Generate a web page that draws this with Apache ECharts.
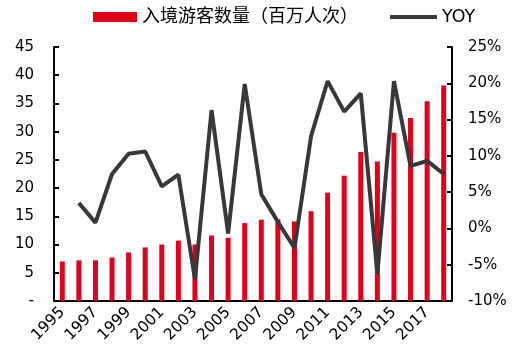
<!DOCTYPE html>
<html>
<head>
<meta charset="utf-8">
<script src="https://cdn.jsdelivr.net/npm/echarts@6/dist/echarts.min.js"></script>
<style>html,body{margin:0;padding:0;background:#fff;}#c{width:520px;height:355px;}</style>
</head>
<body>
<div id="c"></div>
<script>
const years = ['1995','1996','1997','1998','1999','2000','2001','2002','2003','2004','2005','2006','2007','2008','2009','2010','2011','2012','2013','2014','2015','2016','2017','2018'];
const visitors = [7.0, 7.2, 7.2, 7.7, 8.6, 9.5, 10.0, 10.7, 10.0, 11.6, 11.2, 13.8, 14.4, 14.5, 14.1, 15.9, 19.2, 22.2, 26.4, 24.7, 29.8, 32.4, 35.4, 38.2];
const yoy = [null, 3.5, 0.8, 7.5, 10.3, 10.6, 5.8, 7.4, -7.0, 16.3, -0.7, 19.9, 4.7, 0.9, -2.7, 12.7, 20.3, 16.1, 18.6, -6.3, 20.3, 8.6, 9.3, 7.5];
const leftTicks = {min: 0, max: 45, interval: 5};
const rightTicks = {min: -10, max: 25, interval: 5};
const barName = '入境游客数量（百万人次）';
const lineName = 'YOY';

const FONT = "'DejaVu Sans', 'Noto Sans CJK SC', sans-serif";
const chart = echarts.init(document.getElementById('c'), null, {renderer: 'canvas'});
chart.setOption({
  animation: false,
  backgroundColor: '#fff',
  textStyle: {fontFamily: FONT},
  legend: [
    {data: [{name: barName, icon: 'rect'}], left: 93, top: 6, padding: 0, itemWidth: 44, itemHeight: 10, itemGap: 5,
     textStyle: {fontSize: 18, lineHeight: 22, color: '#000', fontFamily: FONT}},
    {data: [{name: lineName, icon: 'rect'}], left: 390, top: 6, padding: 0, itemWidth: 47, itemHeight: 4,
     textStyle: {fontSize: 17.5, lineHeight: 22, color: '#000', fontFamily: FONT}}
  ],
  grid: {left: 54, right: 68, top: 47, bottom: 54, containLabel: false},
  xAxis: {
    type: 'category',
    data: years,
    boundaryGap: true,
    axisLine: {lineStyle: {color: '#000', width: 2}},
    axisTick: {show: false},
    axisLabel: {interval: 1, rotate: 45, fontSize: 15.5, color: '#000', fontFamily: FONT, margin: 9}
  },
  yAxis: [
    {
      type: 'value', min: leftTicks.min, max: leftTicks.max, interval: leftTicks.interval,
      position: 'left',
      axisLine: {show: true, lineStyle: {color: '#000', width: 2}},
      axisTick: {show: true, inside: true, length: 5, lineStyle: {color: '#000', width: 2}},
      splitLine: {show: false},
      axisLabel: {fontSize: 15, color: '#000', fontFamily: FONT, margin: 20,
        formatter: v => v === 0 ? '-' : String(v)}
    },
    {
      type: 'value', min: rightTicks.min, max: rightTicks.max, interval: rightTicks.interval,
      position: 'right',
      axisLine: {show: true, lineStyle: {color: '#000', width: 2}},
      axisTick: {show: true, inside: true, length: 5, lineStyle: {color: '#000', width: 2}},
      splitLine: {show: false},
      axisLabel: {fontSize: 15, color: '#000', fontFamily: FONT, margin: 16,
        formatter: v => v + '%'}
    }
  ],
  series: [
    {
      name: barName, type: 'bar', data: visitors, yAxisIndex: 0,
      barWidth: 5, itemStyle: {color: '#E0001B'}
    },
    {
      name: lineName, type: 'line', data: yoy, yAxisIndex: 1,
      symbol: 'none', connectNulls: false,
      lineStyle: {color: '#383838', width: 4},
      itemStyle: {color: '#383838'}
    }
  ]
});
</script>
</body>
</html>
